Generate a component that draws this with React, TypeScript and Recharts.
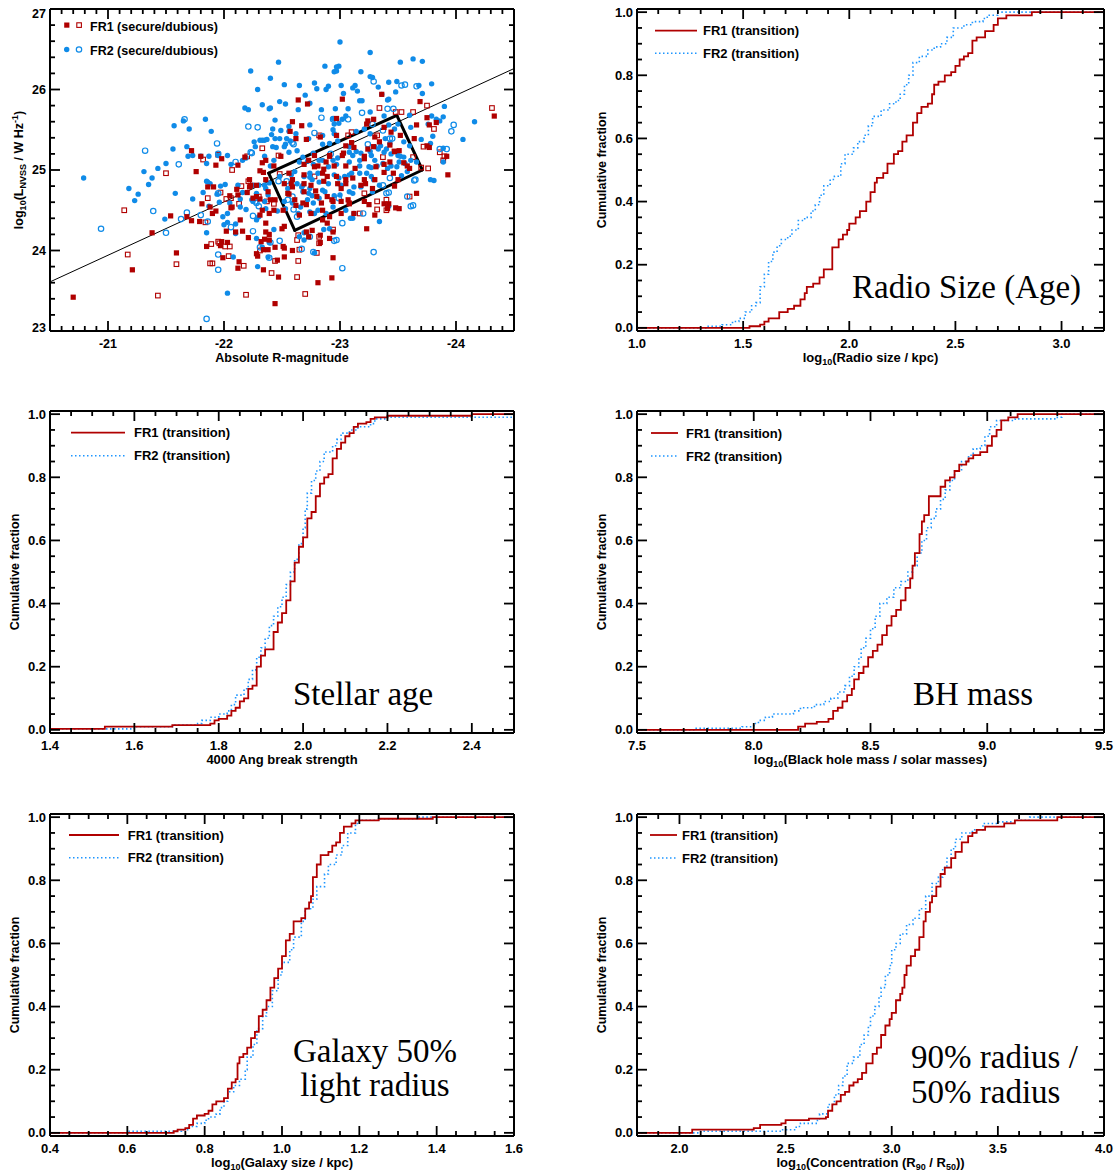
import React from 'react';
import { ScatterChart, Scatter, ComposedChart, Line, XAxis, YAxis, ReferenceLine, Legend } from 'recharts';

type Pt = [number, number];

// ---------------- Panel 1: luminosity vs magnitude ----------------
const fr1Secure: Pt[] = [
[-20.70,23.42],[-21.21,23.76],[-21.38,24.22],[-21.54,24.43],[-21.59,23.97],[-21.68,24.42],[-21.72,25.24],[-21.72,24.37],[-21.76,24.98],[-21.79,24.36],[-21.80,25.17],[-21.81,24.58],[-21.86,24.79],[-21.85,24.05],[-21.88,24.54],[-21.90,24.46],[-21.93,25.06],[-21.93,24.49],[-21.98,25.14],[-21.98,24.11],[-21.99,23.91],[-22.02,24.24],[-22.03,24.10],[-22.07,24.54],[-22.11,24.76],[-22.12,25.06],[-22.13,23.86],[-22.12,23.78],[-22.14,24.38],[-22.16,24.24],[-22.20,24.72],[-22.21,24.16],[-22.22,24.88],[-22.23,24.81],[-22.25,24.65],[-22.28,23.96],[-22.29,23.93],[-22.31,24.99],[-22.31,24.44],[-22.33,25.09],[-22.34,24.97],[-22.35,24.14],[-22.34,23.76],[-22.36,24.34],[-22.38,24.73],[-22.40,24.63],[-22.43,25.05],[-22.43,24.50],[-22.44,24.63],[-22.46,23.88],[-22.47,23.67],[-22.49,25.17],[-22.50,24.27],[-22.51,24.05],[-22.52,24.03],[-22.52,23.92],[-22.55,24.71],[-22.57,25.48],[-22.58,24.83],[-22.59,24.00],[-22.62,24.56],[-22.59,25.60],[-22.61,24.63],[-22.64,25.87],[-22.67,25.55],[-22.65,24.44],[-22.71,25.38],[-22.73,24.17],[-22.81,23.60],[-22.83,25.41],[-22.94,23.91],[-22.93,23.66],[-22.91,24.15],[-23.02,25.88],[-23.36,25.94],[-23.69,25.85],[-24.33,25.67],[-23.92,25.17],[-23.93,24.94],[-23.77,25.28],[-23.77,25.56],[-23.66,24.71],[-23.42,24.58],[-23.51,24.52],[-23.23,24.27],[-23.30,24.44],[-23.12,24.46],[-23.08,24.58],[-23.01,24.61],[-22.44,23.34],
[-23.10,25.34],[-23.12,25.28],[-23.05,25.30],[-23.02,25.18],[-22.91,25.18],[-22.95,25.05],[-22.88,25.10],[-22.81,25.05],[-22.78,25.18],[-22.86,25.01],[-23.05,25.05],[-22.73,25.12],[-22.69,25.07],[-22.62,25.39],[-22.97,25.43],[-22.72,25.82],[-22.97,25.64],[-22.18,25.16],[-22.36,25.12],
[-23.24,25.61],[-23.66,25.56],[-23.75,25.65],[-23.83,25.59],[-23.75,25.30],[-23.64,25.39],[-23.29,25.63],[-23.23,25.57],[-23.30,25.41],[-23.38,25.53],[-23.44,25.47],[-23.52,25.43],[-23.43,25.31],[-23.29,25.29],[-23.24,25.26],[-23.21,25.14],[-23.51,25.24],[-23.55,25.09],[-23.58,25.05],[-23.43,25.10],[-23.38,25.07],
[-21.91,24.79],[-22.05,24.68],[-22.12,24.69],[-22.06,24.53],[-22.22,24.79],[-22.28,24.81],[-22.28,24.67],[-22.31,24.64],[-22.36,24.88],[-22.33,24.50],[-22.39,24.46],[-22.10,24.23],[-22.32,24.11],[-22.36,24.23],[-22.39,24.20],[-22.39,24.13],[-22.34,24.01],[-22.38,24.01],[-22.44,24.04],[-22.52,24.30],[-22.71,24.23],[-22.76,24.25],[-22.83,24.10],[-22.83,24.19],[-22.89,24.34],[-22.94,24.23],[-21.97,24.06],
[-22.52,24.83],[-22.56,24.96],[-22.59,24.88],[-22.59,24.79],[-22.56,24.70],[-22.51,24.50],[-22.68,24.59],[-22.69,24.83],[-22.75,24.81],[-22.79,24.74],[-22.84,24.59],[-22.86,24.86],[-22.89,24.92],[-22.98,24.83],[-23.05,24.83],[-23.11,24.90],[-23.01,24.77],[-22.89,24.67],[-22.94,24.61],[-22.85,24.50],[-22.85,24.38],[-22.91,24.42],[-22.71,24.57],[-22.69,24.94],[-23.08,24.59],[-23.01,24.46],
[-23.21,24.88],[-23.22,24.83],[-23.30,24.88],[-23.28,24.77],[-23.21,24.61],[-23.25,24.57],[-23.38,24.58],[-23.41,24.52],[-23.48,24.53],[-23.47,24.80],[-23.50,24.88],[-23.38,24.97],
[-22.69,24.73],[-22.80,24.67],[-22.85,24.96],[-22.97,24.92],[-23.05,24.88],[-23.13,25.02],[-23.21,25.17],[-23.34,25.35],[-23.47,25.23],[-23.60,25.02],[-23.18,24.81],[-23.07,24.63],[-22.93,24.63],[-22.75,24.46],[-23.46,24.96],[-23.31,25.04],[-23.03,25.21],[-22.91,25.17],[-22.78,25.04]
];

const fr1Dubious: Pt[] = [
[-21.14,24.50],[-21.17,23.95],[-21.43,23.44],[-21.50,24.96],[-21.59,23.83],[-21.82,25.13],[-21.88,23.84],[-21.90,23.84],[-21.97,24.72],[-21.96,24.09],[-22.01,24.05],[-22.05,24.05],[-22.04,23.93],[-22.07,25.00],[-22.06,24.65],[-22.17,23.81],[-22.19,23.45],[-22.20,25.17],[-22.30,24.67],[-22.31,24.00],[-22.33,25.27],[-22.37,24.61],[-22.41,23.72],[-22.63,24.13],[-22.64,24.19],[-22.64,23.87],[-22.63,23.67],[-22.70,23.46],[-22.82,24.09],[-22.82,24.17],[-22.80,23.97],[-22.94,24.26],[-23.75,25.80],[-24.31,25.77],[-23.90,25.17],[-23.89,25.12],[-23.81,25.51],[-23.72,25.29],[-23.76,25.02],[-23.60,24.67],[-23.40,24.63],[-23.40,24.50],[-23.17,24.46],
[-23.07,25.43],[-23.10,25.47],[-22.82,25.43],[-22.47,25.18],[-21.95,25.19],
[-23.53,25.72],[-23.48,25.72],[-23.34,25.77],[-23.63,25.72],[-23.86,25.22],[-23.32,25.43],[-23.37,25.16],[-23.47,25.23],[-23.63,25.16],[-23.70,25.03],
[-21.86,24.65],[-22.13,24.58],[-22.15,24.80],[-22.21,24.86],[-22.43,24.58],[-21.84,24.35],[-22.65,24.01],[-21.89,24.08],[-21.95,24.11],[-22.02,24.64],[-22.48,24.95],[-22.78,24.92],[-22.44,23.87],
[-23.21,24.71],[-23.32,24.61],[-23.32,24.51]
];

const fr2Secure: Pt[] = [
[-20.79,24.90],[-21.18,24.77],[-21.26,24.70],[-21.23,24.62],[-21.31,24.98],[-21.35,24.82],[-21.38,24.90],[-21.43,25.02],[-21.49,24.39],[-21.50,25.08],[-21.56,25.26],[-21.57,25.55],[-21.58,24.71],[-21.65,25.61],[-21.68,25.29],[-21.69,25.17],[-21.70,25.51],[-21.73,25.18],[-21.73,24.64],[-21.80,25.17],[-21.84,25.63],[-21.82,24.72],[-21.85,25.08],[-21.86,24.85],[-21.89,25.48],[-21.87,25.17],[-21.95,25.18],[-21.96,24.60],[-22.03,25.18],[-22.01,24.82],[-22.03,24.46],[-22.03,24.35],[-22.03,23.47],[-22.06,25.07],[-22.10,24.33],[-22.10,24.21],[-22.12,24.81],[-22.08,23.92],[-22.16,25.12],[-22.14,24.64],[-22.18,25.77],[-22.19,25.15],[-22.21,25.75],[-22.23,26.23],[-22.24,24.63],[-22.27,25.29],[-22.28,24.15],[-22.29,23.80],[-22.29,26.00],[-22.31,25.37],[-22.30,24.81],[-22.33,25.81],[-22.33,25.37],[-22.35,25.17],[-22.35,25.37],[-22.36,24.77],[-22.36,24.52],[-22.37,25.38],[-22.40,26.14],[-22.40,25.77],[-22.41,25.44],[-22.42,25.29],[-22.39,24.84],[-22.44,25.62],[-22.44,25.39],[-22.45,25.28],[-22.46,24.49],[-22.47,26.34],[-22.48,25.85],[-22.53,25.82],[-22.54,25.39],[-22.55,24.77],[-22.56,25.54],[-22.58,24.94],[-22.64,25.75],[-22.65,26.05],[-22.65,25.10],[-22.68,24.81],[-22.70,25.93],[-22.72,25.11],[-22.74,25.56],[-22.76,24.88],[-22.78,26.08],[-22.84,25.75],[-22.87,26.29],[-22.88,26.00],[-22.90,26.04],[-22.85,25.32],[-22.91,25.33],[-22.94,25.64],[-22.97,26.23],[-22.99,26.29],[-23.00,26.59],[-22.91,24.27],[-23.03,25.95],[-23.07,25.76],[-23.11,26.02],[-23.13,26.05],[-23.15,25.98],[-23.18,26.22],[-23.19,25.86],[-23.26,26.46],[-23.28,26.15],[-23.33,26.03],[-23.36,25.94],[-23.42,25.88],[-23.42,26.09],[-23.49,26.10],[-23.52,26.34],[-23.63,26.38],[-23.68,26.05],[-23.71,26.35],[-23.71,25.95],[-23.79,26.07],[-23.90,25.79],[-24.16,25.60],[-24.06,25.38],[-23.89,25.66],[-23.81,24.87],[-23.89,25.27],[-23.89,25.10],[-23.78,25.33],[-23.80,25.42],[-23.79,25.67],[-23.83,25.63],[-23.86,25.61],[-23.34,24.81],[-23.34,24.36],[-23.05,24.50],[-23.11,24.40],
[-23.14,25.48],[-23.08,25.22],[-23.11,25.18],[-22.85,25.12],[-22.77,25.07],[-22.97,25.07],[-23.08,25.10],[-22.68,25.16],[-22.63,25.24],[-22.77,25.21],[-22.85,25.43],[-22.95,25.45],[-22.98,25.36],[-22.99,25.58],[-22.95,25.57],[-23.02,25.63],[-23.05,25.67],[-22.73,25.39],[-22.57,25.36],[-22.53,25.32],[-22.48,25.39],
[-22.97,26.28],[-22.95,26.22],[-22.52,26.06],[-22.80,26.01],[-23.01,26.05],[-22.74,25.83],[-22.39,25.76],[-22.96,25.76],[-22.56,25.48],[-22.62,25.45],[-22.94,25.50],[-22.49,25.49],[-22.42,25.51],[-22.26,25.35],[-22.40,25.05],[-22.43,25.12],[-22.52,25.29],[-22.56,25.22],
[-23.26,26.16],[-23.48,25.97],[-23.17,25.86],[-23.41,25.87],[-23.26,25.72],[-23.38,25.67],[-23.60,25.68],[-23.61,25.53],[-23.76,25.57],[-23.70,25.38],[-23.60,25.30],[-23.55,25.35],
[-23.21,25.51],[-23.26,25.45],[-23.42,25.56],[-23.47,25.51],[-23.50,25.57],[-23.40,25.26],[-23.35,25.30],[-23.33,25.26],[-23.18,25.21],[-23.27,25.18],[-23.30,25.12],[-23.38,25.22],[-23.44,25.20],[-23.50,25.18],[-23.51,25.10],[-23.55,25.16],[-23.61,25.12],[-23.66,25.10],[-23.44,25.05],[-23.32,25.05],[-23.27,25.03],[-23.17,25.05],
[-21.85,24.86],[-21.88,24.83],[-21.97,24.80],[-21.94,24.70],[-21.87,24.55],[-22.05,24.59],[-22.14,24.54],[-22.19,24.51],[-22.16,24.72],[-22.25,24.81],[-22.28,24.71],[-22.25,24.61],[-22.35,24.61],[-22.35,24.81],[-22.38,24.69],[-22.30,24.42],[-22.28,24.38],[-21.99,24.42],[-22.00,24.32],[-21.85,24.22],[-22.39,24.10],[-22.33,24.04],[-22.43,24.26],[-22.38,23.92],[-22.69,24.13],[-22.65,24.17],[-22.69,24.22],[-22.86,24.26],[-22.78,23.97],
[-22.48,24.92],[-22.61,24.98],[-22.63,24.83],[-22.52,24.61],[-22.53,24.52],[-22.59,24.59],[-22.64,24.46],[-22.66,24.54],[-22.68,24.73],[-22.74,24.77],[-22.73,24.71],[-22.76,24.68],[-22.82,24.65],[-22.85,24.75],[-22.90,24.83],[-22.95,24.94],[-22.99,24.90],[-23.04,24.92],[-23.08,24.94],[-23.12,24.79],[-23.08,24.73],[-22.95,24.68],[-22.78,24.46],[-22.74,24.48],[-22.74,24.91],[-22.81,24.96],[-23.12,24.46],[-23.09,24.40],
[-23.17,24.96],[-23.18,24.79],[-23.27,24.92],[-23.28,24.73],[-23.42,24.55],[-23.53,24.93],[-23.58,24.98],[-23.78,24.88],
[-22.67,24.79],[-22.72,24.63],[-22.77,24.59],[-22.82,24.85],[-22.90,25.04],[-22.94,25.12],[-23.01,24.81],[-23.10,24.96],[-23.17,25.12],[-23.26,25.23],[-23.30,25.29],[-23.39,25.39],[-23.43,25.33],[-23.52,25.17],[-23.56,25.08],[-23.23,24.96],[-23.29,24.88],[-23.11,24.71],[-23.00,24.69],[-22.87,24.73],[-22.81,24.50],[-22.88,24.46],[-22.94,24.54],[-23.37,25.08],[-23.41,25.02],[-23.49,25.04],[-23.25,25.04],[-23.14,25.23],[-23.08,25.29],[-22.98,25.15],[-22.82,25.12],[-22.74,24.96],[-22.69,24.92]
];

const fr2Dubious: Pt[] = [
[-20.94,24.27],[-21.32,25.24],[-21.39,24.49],[-21.50,24.22],[-21.61,25.07],[-21.63,24.39],[-21.66,25.63],[-21.68,24.47],[-21.86,24.36],[-21.85,23.15],[-21.95,25.20],[-21.95,24.71],[-21.95,23.76],[-21.95,23.95],[-22.06,24.29],[-22.21,25.54],[-22.24,25.21],[-22.25,24.43],[-22.25,24.24],[-22.27,24.61],[-22.29,25.53],[-22.30,24.55],[-22.31,24.04],[-22.40,24.10],[-22.39,23.91],[-22.54,24.86],[-22.55,24.63],[-22.60,24.51],[-22.63,24.42],[-22.67,24.02],[-22.74,24.17],[-22.78,25.46],[-22.77,23.98],[-22.97,24.13],[-23.02,23.78],[-23.29,26.10],[-23.56,26.06],[-23.98,25.56],[-23.96,25.48],[-23.92,25.26],[-23.65,24.88],[-23.63,24.56],[-23.42,24.72],[-23.29,23.98],[-23.20,24.46],
[-22.92,25.20],[-22.60,25.32],[-22.84,25.65],[-22.94,25.63],[-21.94,25.33],[-22.23,25.22],[-22.10,25.10],[-22.59,25.34],[-23.07,25.63],
[-23.53,26.05],[-23.66,26.04],[-23.19,25.71],[-23.41,25.76],[-23.46,25.76],[-23.86,25.26],[-23.28,25.57],[-23.37,25.49],[-23.43,25.39],[-23.45,25.39],[-23.24,25.32],
[-21.80,24.44],[-22.28,24.59],[-22.48,24.12],[-22.95,24.12],[-22.47,24.86],[-22.59,24.67],[-22.99,24.65],[-23.02,24.34],
[-23.37,24.81],[-23.40,24.71],[-23.43,24.90],[-23.58,24.67],[-23.61,24.55],[-23.64,24.87]
];

const fitLine: Pt[] = [[-20.5, 23.61], [-24.5, 26.26]];
const selectionBox: Pt[] = [[-22.385, 24.96], [-22.61, 24.25], [-23.71, 25.0], [-23.49, 25.68]];

const magTicks = [-21, -22, -23, -24];
const lumTicks = [23, 24, 25, 26, 27];

// ---------------- CDF panels ----------------
const cdfTicks = [0, 0.2, 0.4, 0.6, 0.8, 1.0];

const radioTicks = [1.0, 1.5, 2.0, 2.5, 3.0];
const radioFR1: Pt[] = [[1.0,0],[1.53,0.005],[1.58,0.01],[1.60,0.02],[1.62,0.03],[1.67,0.05],[1.71,0.06],[1.74,0.07],[1.77,0.09],[1.79,0.11],[1.80,0.13],[1.83,0.14],[1.86,0.16],[1.88,0.185],[1.92,0.255],[1.95,0.28],[1.97,0.295],[1.99,0.31],[2.00,0.33],[2.03,0.35],[2.05,0.37],[2.08,0.40],[2.10,0.43],[2.12,0.46],[2.13,0.475],[2.16,0.49],[2.18,0.52],[2.21,0.55],[2.23,0.56],[2.25,0.59],[2.27,0.61],[2.30,0.65],[2.32,0.68],[2.34,0.70],[2.37,0.71],[2.39,0.74],[2.40,0.77],[2.42,0.78],[2.45,0.80],[2.48,0.81],[2.50,0.83],[2.52,0.85],[2.54,0.86],[2.56,0.87],[2.58,0.91],[2.60,0.92],[2.64,0.94],[2.68,0.96],[2.70,0.98],[2.74,0.99],[2.86,1.0],[3.2,1.0]];
const radioFR2: Pt[] = [[1.0,0],[1.33,0.005],[1.40,0.01],[1.45,0.02],[1.48,0.03],[1.51,0.05],[1.54,0.07],[1.56,0.08],[1.58,0.13],[1.60,0.17],[1.62,0.21],[1.64,0.24],[1.66,0.26],[1.68,0.28],[1.71,0.29],[1.73,0.31],[1.76,0.34],[1.79,0.35],[1.82,0.37],[1.84,0.39],[1.86,0.42],[1.88,0.45],[1.91,0.47],[1.93,0.48],[1.96,0.52],[1.98,0.55],[2.02,0.57],[2.04,0.59],[2.07,0.61],[2.09,0.64],[2.11,0.67],[2.15,0.69],[2.19,0.71],[2.22,0.72],[2.24,0.74],[2.26,0.77],[2.28,0.80],[2.30,0.84],[2.33,0.86],[2.37,0.88],[2.40,0.89],[2.43,0.90],[2.46,0.92],[2.49,0.95],[2.54,0.96],[2.58,0.97],[2.63,0.98],[2.65,0.99],[2.70,1.0],[3.2,1.0]];

const ageTicks = [1.4, 1.6, 1.8, 2.0, 2.2, 2.4];
const ageFR1: Pt[] = [[1.4,0.003],[1.53,0.01],[1.69,0.015],[1.78,0.02],[1.79,0.03],[1.80,0.035],[1.82,0.045],[1.83,0.06],[1.84,0.07],[1.85,0.09],[1.86,0.10],[1.87,0.13],[1.88,0.14],[1.89,0.20],[1.90,0.235],[1.91,0.255],[1.93,0.31],[1.94,0.34],[1.95,0.37],[1.96,0.41],[1.97,0.47],[1.98,0.53],[1.99,0.58],[2.00,0.61],[2.01,0.67],[2.02,0.69],[2.03,0.74],[2.04,0.78],[2.05,0.80],[2.06,0.81],[2.07,0.86],[2.08,0.89],[2.09,0.91],[2.10,0.93],[2.11,0.94],[2.12,0.96],[2.13,0.97],[2.15,0.975],[2.16,0.985],[2.17,0.99],[2.20,0.995],[2.40,1.0],[2.5,1.0]];
const ageFR2: Pt[] = [[1.4,0.003],[1.60,0.01],[1.69,0.015],[1.75,0.02],[1.76,0.03],[1.78,0.04],[1.80,0.05],[1.82,0.06],[1.83,0.08],[1.84,0.11],[1.86,0.13],[1.87,0.16],[1.88,0.19],[1.89,0.23],[1.90,0.26],[1.91,0.29],[1.92,0.33],[1.93,0.36],[1.94,0.39],[1.95,0.42],[1.96,0.46],[1.97,0.50],[1.98,0.54],[1.99,0.59],[2.00,0.64],[2.005,0.70],[2.01,0.75],[2.02,0.79],[2.03,0.82],[2.04,0.85],[2.05,0.88],[2.07,0.90],[2.08,0.92],[2.09,0.94],[2.11,0.95],[2.13,0.96],[2.16,0.97],[2.17,0.985],[2.20,0.99],[2.5,0.995]];

const bhTicks = [7.5, 8.0, 8.5, 9.0, 9.5];
const bhFR1: Pt[] = [[7.5,0],[8.19,0.01],[8.22,0.02],[8.27,0.025],[8.32,0.035],[8.34,0.06],[8.36,0.07],[8.38,0.09],[8.40,0.11],[8.42,0.13],[8.43,0.16],[8.45,0.18],[8.47,0.20],[8.49,0.23],[8.51,0.25],[8.53,0.27],[8.55,0.30],[8.57,0.33],[8.59,0.36],[8.61,0.38],[8.63,0.41],[8.65,0.45],[8.67,0.48],[8.68,0.52],[8.69,0.56],[8.71,0.62],[8.72,0.66],[8.73,0.68],[8.75,0.74],[8.80,0.77],[8.82,0.79],[8.84,0.80],[8.86,0.82],[8.88,0.84],[8.91,0.85],[8.92,0.86],[8.94,0.87],[8.97,0.88],[9.00,0.90],[9.02,0.93],[9.04,0.95],[9.06,0.98],[9.09,0.99],[9.13,1.0],[9.5,1.0]];
const bhFR2: Pt[] = [[7.5,0],[7.75,0.005],[7.95,0.01],[8.00,0.02],[8.02,0.03],[8.05,0.04],[8.08,0.05],[8.17,0.06],[8.20,0.07],[8.26,0.08],[8.30,0.09],[8.33,0.10],[8.36,0.12],[8.39,0.14],[8.41,0.17],[8.43,0.20],[8.45,0.23],[8.46,0.26],[8.48,0.29],[8.50,0.32],[8.52,0.36],[8.54,0.40],[8.57,0.42],[8.60,0.45],[8.63,0.47],[8.66,0.50],[8.68,0.52],[8.70,0.56],[8.72,0.60],[8.74,0.64],[8.76,0.67],[8.78,0.70],[8.80,0.73],[8.82,0.76],[8.84,0.79],[8.86,0.82],[8.89,0.85],[8.92,0.87],[8.94,0.89],[8.97,0.90],[8.99,0.93],[9.01,0.96],[9.04,0.98],[9.12,0.985],[9.30,0.99],[9.32,1.0],[9.5,1.0]];

const sizeTicks = [0.4, 0.6, 0.8, 1.0, 1.2, 1.4, 1.6];
const sizeFR1: Pt[] = [[0.4,0],[0.72,0.005],[0.73,0.01],[0.75,0.015],[0.76,0.025],[0.77,0.045],[0.78,0.055],[0.80,0.06],[0.81,0.07],[0.82,0.09],[0.83,0.10],[0.85,0.11],[0.86,0.14],[0.87,0.16],[0.88,0.17],[0.885,0.22],[0.89,0.24],[0.90,0.25],[0.91,0.27],[0.92,0.30],[0.93,0.32],[0.94,0.37],[0.95,0.39],[0.96,0.42],[0.97,0.46],[0.98,0.49],[0.99,0.52],[1.00,0.56],[1.01,0.61],[1.02,0.63],[1.03,0.67],[1.05,0.68],[1.06,0.71],[1.07,0.73],[1.075,0.75],[1.08,0.81],[1.09,0.85],[1.10,0.88],[1.12,0.89],[1.13,0.91],[1.14,0.92],[1.15,0.95],[1.16,0.97],[1.18,0.98],[1.19,0.99],[1.25,0.995],[1.39,1.0],[1.6,1.0]];
const sizeFR2: Pt[] = [[0.4,0],[0.60,0.005],[0.74,0.01],[0.76,0.02],[0.78,0.03],[0.80,0.04],[0.81,0.05],[0.83,0.06],[0.84,0.08],[0.85,0.10],[0.86,0.13],[0.875,0.15],[0.89,0.17],[0.905,0.20],[0.91,0.24],[0.925,0.28],[0.935,0.33],[0.95,0.37],[0.96,0.40],[0.975,0.45],[0.99,0.50],[1.00,0.54],[1.02,0.58],[1.03,0.62],[1.05,0.67],[1.06,0.71],[1.08,0.74],[1.09,0.78],[1.11,0.82],[1.12,0.85],[1.14,0.88],[1.155,0.91],[1.17,0.95],[1.19,0.98],[1.20,0.99],[1.25,0.995],[1.35,1.0],[1.6,1.0]];

const concTicks = [2.0, 2.5, 3.0, 3.5, 4.0];
const concFR1: Pt[] = [[1.8,0],[2.06,0.01],[2.35,0.015],[2.38,0.025],[2.48,0.03],[2.50,0.04],[2.61,0.045],[2.69,0.05],[2.70,0.07],[2.72,0.09],[2.74,0.10],[2.76,0.12],[2.78,0.13],[2.80,0.15],[2.82,0.16],[2.84,0.17],[2.86,0.19],[2.88,0.22],[2.91,0.25],[2.93,0.27],[2.95,0.31],[2.97,0.34],[2.99,0.36],[3.00,0.38],[3.02,0.42],[3.04,0.44],[3.05,0.46],[3.06,0.50],[3.07,0.53],[3.09,0.56],[3.11,0.58],[3.13,0.62],[3.15,0.67],[3.16,0.70],[3.18,0.73],[3.19,0.75],[3.21,0.78],[3.23,0.82],[3.25,0.84],[3.28,0.87],[3.30,0.89],[3.33,0.92],[3.36,0.94],[3.38,0.95],[3.40,0.96],[3.44,0.97],[3.53,0.98],[3.58,0.99],[3.78,1.0],[4.0,1.0]];
const concFR2: Pt[] = [[1.8,0],[2.10,0.005],[2.48,0.01],[2.55,0.02],[2.57,0.03],[2.65,0.04],[2.66,0.06],[2.70,0.09],[2.73,0.12],[2.75,0.15],[2.77,0.18],[2.79,0.22],[2.82,0.24],[2.85,0.28],[2.87,0.31],[2.89,0.34],[2.90,0.37],[2.92,0.40],[2.94,0.43],[2.95,0.46],[2.97,0.50],[2.99,0.53],[3.00,0.58],[3.02,0.60],[3.04,0.63],[3.07,0.66],[3.10,0.68],[3.13,0.71],[3.16,0.75],[3.19,0.79],[3.22,0.81],[3.24,0.84],[3.26,0.87],[3.28,0.90],[3.30,0.93],[3.33,0.95],[3.38,0.96],[3.43,0.98],[3.50,0.985],[3.58,0.99],[3.65,1.0],[4.0,1.0]];

// ---------------- styling ----------------
const SANS = '"Liberation Sans", Arial, Helvetica, sans-serif';
const SERIF = '"Liberation Serif", "Times New Roman", serif';
const RED = '#b00000';
const BLUE = '#0f8be8';
const BLUE_LINE = '#1e96ff';
const AXIS = { stroke: '#000', strokeWidth: 2 };
const W = 557;
const H = 380;
const PLOT_H = 322;
const MAJOR_LEN = 10;
const MINOR_LEN = 5;

const toXY = (arr: Pt[]) => arr.map(([x, y]) => ({ x, y }));

function ticksBetween(lo: number, hi: number, step: number) {
  const n = Math.round((hi - lo) / step);
  const out: number[] = [];
  for (let i = 0; i <= n; i++) out.push(Number((lo + i * step).toFixed(6)));
  return out;
}
const isMajorOf = (majors: number[]) => (v: number) => majors.some((m) => Math.abs(m - v) < 1e-6);

// inward tick marks on all four frame edges, as reference-line segments in data space
function frameTickLines(
  key: string, xt: number[], xMaj: number[], yt: number[], yMaj: number[],
  xLeft: number, xRight: number, yBottom: number, yTop: number, plotW: number,
) {
  const mx = isMajorOf(xMaj);
  const my = isMajorOf(yMaj);
  const dx = (xRight - xLeft) / plotW; // data units per px, rightwards
  const dy = (yTop - yBottom) / PLOT_H; // data units per px, upwards
  const segs: { a: { x: number; y: number }; b: { x: number; y: number } }[] = [];
  xt.forEach((v) => {
    const L = mx(v) ? MAJOR_LEN : MINOR_LEN;
    segs.push({ a: { x: v, y: yBottom }, b: { x: v, y: yBottom + L * dy } });
    segs.push({ a: { x: v, y: yTop }, b: { x: v, y: yTop - L * dy } });
  });
  yt.forEach((v) => {
    const L = my(v) ? MAJOR_LEN : MINOR_LEN;
    segs.push({ a: { x: xLeft, y: v }, b: { x: xLeft + L * dx, y: v } });
    segs.push({ a: { x: xRight, y: v }, b: { x: xRight - L * dx, y: v } });
  });
  return segs.map((s, i) => (
    <ReferenceLine key={`${key}-t${i}`} segment={[s.a, s.b]} stroke="#000" strokeWidth={1.8} ifOverflow="visible" />
  ));
}

// axis tick renderer: labels only
type Side = 'bottom' | 'left';
function makeLabel(side: Side, majors: number[], fmt: (v: number) => string, fontSize = 13, clamp?: [number, number]) {
  const isMajor = isMajorOf(majors);
  return (props: any) => {
    const x = Number(props.x);
    const y = Number(props.y);
    const v = Number(props.payload.value);
    if (!isMajor(v)) return <g />;
    if (side === 'bottom') {
      return (
        <text x={x} y={y + 17} textAnchor="middle" fontFamily={SANS} fontWeight="bold" fontSize={fontSize} fill="#000">
          {fmt(v)}
        </text>
      );
    }
    let ly = y;
    if (clamp) ly = Math.min(Math.max(ly, clamp[0]), clamp[1]);
    return (
      <text x={x - 4} y={ly} dy="0.35em" textAnchor="end" fontFamily={SANS} fontWeight="bold" fontSize={fontSize} fill="#000">
        {fmt(v)}
      </text>
    );
  };
}

const fmt1 = (v: number) => v.toFixed(1);
const fmtInt = (v: number) => String(Math.round(v));

function AxisTitle(props: any) {
  const { px, py, rot, node, size } = props;
  return (
    <text
      x={px}
      y={py}
      transform={rot ? `rotate(-90 ${px} ${py})` : undefined}
      textAnchor="middle"
      fontFamily={SANS}
      fontWeight="bold"
      fontSize={size ?? 13}
      fill="#000"
    >
      {node}
    </text>
  );
}

const sub = (t: string, rest: string) => [
  <tspan key={'s' + t} dy={3} fontSize={9}>{t}</tspan>,
  <tspan key={'r' + t + rest} dy={-3}>{rest}</tspan>,
];

const axisCommon = { interval: 0 as const, tickSize: 0, tickMargin: 0, tickLine: false, axisLine: AXIS, allowDataOverflow: true };

// ---------------- Panel 1 ----------------
function ScatterPanel() {
  const xt = ticksBetween(-24.5, -20.5, 0.1);
  const yt = ticksBetween(23, 27, 0.2);
  const tickLines = frameTickLines('p1', xt, magTicks, yt, lumTicks, -20.5, -24.5, 23, 27, 464);
  const sq = (fill: boolean) => (p: any) =>
    fill ? (
      <rect x={p.cx - 2.6} y={p.cy - 2.6} width={5.2} height={5.2} fill={RED} />
    ) : (
      <rect x={p.cx - 2.3} y={p.cy - 2.3} width={4.6} height={4.6} fill="none" stroke={RED} strokeWidth={1.1} />
    );
  const dot = (fill: boolean) => (p: any) =>
    fill ? (
      <circle cx={p.cx} cy={p.cy} r={2.7} fill={BLUE} />
    ) : (
      <circle cx={p.cx} cy={p.cy} r={2.7} fill="none" stroke={BLUE} strokeWidth={1.2} />
    );
  const boxSegs = selectionBox.map((c, i) => {
    const n = selectionBox[(i + 1) % selectionBox.length];
    return (
      <ReferenceLine
        key={'box' + i}
        segment={[{ x: c[0], y: c[1] }, { x: n[0], y: n[1] }]}
        stroke="#000"
        strokeWidth={3}
        strokeLinecap="round"
        ifOverflow="visible"
      />
    );
  });
  const yTitle = [
    'log',
    <tspan key="a" dy={3} fontSize={9}>10</tspan>,
    <tspan key="b" dy={-3}>(L</tspan>,
    <tspan key="c" dy={3} fontSize={9}>NVSS</tspan>,
    <tspan key="d" dy={-3}> / W Hz</tspan>,
    <tspan key="e" dy={-5} fontSize={9}>-1</tspan>,
    <tspan key="f" dy={5}>)</tspan>,
  ];
  const legendContent = () => (
    <svg width={W} height={H} style={{ position: 'absolute', left: 0, top: 0, overflow: 'visible' }}>
      <rect x={64.2} y={24.5} width={5.2} height={5.2} fill={RED} />
      <rect x={76.8} y={24.8} width={4.6} height={4.6} fill="none" stroke={RED} strokeWidth={1.1} />
      <text x={90} y={29} dy="0.35em" fontFamily={SANS} fontWeight="bold" fontSize={12.5}>FR1 (secure/dubious)</text>
      <circle cx={66.7} cy={51.5} r={2.7} fill={BLUE} />
      <circle cx={79} cy={51.5} r={2.7} fill="none" stroke={BLUE} strokeWidth={1.2} />
      <text x={90} y={53} dy="0.35em" fontFamily={SANS} fontWeight="bold" fontSize={12.5}>FR2 (secure/dubious)</text>
    </svg>
  );
  return (
    <div style={{ position: 'absolute', left: 0, top: -2 }}>
      <ScatterChart width={W} height={H} margin={{ top: 10, right: 42, bottom: 7, left: 0 }}>
        <XAxis
          type="number" dataKey="x" domain={[-24.5, -20.5]} reversed ticks={xt} {...axisCommon}
          tick={makeLabel('bottom', magTicks, fmtInt, 12.5)} height={40}
          label={<AxisTitle px={282} py={364} size={12.5} node="Absolute R-magnitude" />}
        />
        <XAxis xAxisId="top" orientation="top" type="number" dataKey="x" domain={[-24.5, -20.5]} reversed
          {...axisCommon} tick={false} height={1} />
        <YAxis
          type="number" dataKey="y" domain={[23, 27]} ticks={yt} {...axisCommon}
          tick={makeLabel('left', lumTicks, fmtInt, 12.5, [16, 330])} width={50}
          label={<AxisTitle px={22.5} py={172} rot size={12.5} node={yTitle} />}
        />
        <YAxis yAxisId="right" orientation="right" type="number" dataKey="y" domain={[23, 27]}
          {...axisCommon} tick={false} width={1} />
        <Scatter name="FR1 dubious" data={toXY(fr1Dubious)} shape={sq(false)} isAnimationActive={false} />
        <Scatter name="FR2 dubious" data={toXY(fr2Dubious)} shape={dot(false)} isAnimationActive={false} />
        <Scatter name="FR2 secure" data={toXY(fr2Secure)} shape={dot(true)} isAnimationActive={false} />
        <Scatter name="FR1 secure" data={toXY(fr1Secure)} shape={sq(true)} isAnimationActive={false} />
        <ReferenceLine
          segment={[{ x: fitLine[0][0], y: fitLine[0][1] }, { x: fitLine[1][0], y: fitLine[1][1] }]}
          stroke="#000" strokeWidth={1} ifOverflow="visible"
        />
        {boxSegs}
        {tickLines}
        <Legend
          verticalAlign="middle" align="center" layout="horizontal" content={legendContent}
          wrapperStyle={{ position: 'absolute', left: 0, top: 0, width: W, height: H, pointerEvents: 'none' }}
        />
      </ScatterChart>
    </div>
  );
}

// ---------------- CDF panel ----------------
type LegendPos = { x1: number; x2: number; tx: number; y1: number; y2: number };
type Note = { lines: string[]; x: number; y: number; gap: number; anchor: 'start' | 'middle' };
const Y_DOMAIN: [number, number] = [-0.01, 1.01];

function CdfPanel(p: {
  id: string;
  left: number;
  top: number;
  col: 0 | 1;
  xDomain: [number, number];
  xMinor: number;
  xMajors: number[];
  fr1: Pt[];
  fr2: Pt[];
  xTitle: React.ReactNode;
  legend: LegendPos;
  note: Note;
}) {
  const xt = ticksBetween(p.xDomain[0], p.xDomain[1], p.xMinor);
  const yt = ticksBetween(0, 1, 0.05);
  const axisW = p.col === 0 ? 50 : 80;
  const mr = p.col === 0 ? 42 : 9;
  const plotL = axisW;
  const plotR = W - mr - 1;
  const cx = (plotL + plotR) / 2;
  const tickLines = frameTickLines(p.id, xt, p.xMajors, yt, cdfTicks, p.xDomain[0], p.xDomain[1], Y_DOMAIN[0], Y_DOMAIN[1], plotR - plotL);
  const lg = p.legend;
  const legendContent = () => (
    <svg width={W} height={H} style={{ position: 'absolute', left: 0, top: 0, overflow: 'visible' }}>
      <line x1={lg.x1} x2={lg.x2} y1={lg.y1} y2={lg.y1} stroke={RED} strokeWidth={1.8} />
      <text x={lg.tx} y={lg.y1} dy="0.35em" fontFamily={SANS} fontWeight="bold" fontSize={13}>FR1 (transition)</text>
      <line x1={lg.x1} x2={lg.x2} y1={lg.y2} y2={lg.y2} stroke={BLUE_LINE} strokeWidth={1.6} strokeDasharray="1.5 2.5" />
      <text x={lg.tx} y={lg.y2} dy="0.35em" fontFamily={SANS} fontWeight="bold" fontSize={13}>FR2 (transition)</text>
      {p.note.lines.map((s, i) => (
        <text key={i} x={p.note.x} y={p.note.y + i * p.note.gap} textAnchor={p.note.anchor} fontFamily={SERIF} fontSize={33} fill="#000">
          {s}
        </text>
      ))}
    </svg>
  );
  return (
    <div style={{ position: 'absolute', left: p.left, top: p.top }}>
      <ComposedChart width={W} height={H} margin={{ top: 10, right: mr, bottom: 7, left: 0 }}>
        <XAxis
          type="number" dataKey="x" domain={p.xDomain} ticks={xt} {...axisCommon}
          tick={makeLabel('bottom', p.xMajors, fmt1, 13)} height={40}
          label={<AxisTitle px={cx} py={364} node={p.xTitle} />}
        />
        <XAxis xAxisId="top" orientation="top" type="number" dataKey="x" domain={p.xDomain}
          {...axisCommon} tick={false} height={1} />
        <YAxis
          type="number" dataKey="y" domain={Y_DOMAIN} ticks={yt} {...axisCommon}
          tick={makeLabel('left', cdfTicks, fmt1, 13)} width={axisW}
          label={<AxisTitle px={plotL - 31.5} py={172} rot size={12.5} node="Cumulative fraction" />}
        />
        <YAxis yAxisId="right" orientation="right" type="number" dataKey="y" domain={Y_DOMAIN}
          {...axisCommon} tick={false} width={1} />
        <Line name="FR2 (transition)" data={toXY(p.fr2)} dataKey="y" type="stepAfter" stroke={BLUE_LINE} strokeWidth={1.6}
          strokeDasharray="1.5 2.5" dot={false} activeDot={false} isAnimationActive={false} />
        <Line name="FR1 (transition)" data={toXY(p.fr1)} dataKey="y" type="stepAfter" stroke={RED} strokeWidth={1.8}
          dot={false} activeDot={false} isAnimationActive={false} />
        {tickLines}
        <Legend
          verticalAlign="middle" align="center" layout="horizontal" content={legendContent}
          wrapperStyle={{ position: 'absolute', left: 0, top: 0, width: W, height: H, pointerEvents: 'none' }}
        />
      </ComposedChart>
    </div>
  );
}

export default function App() {
  return (
    <div style={{ position: 'absolute', left: 0, top: 0, width: 1114, height: 1171, background: '#fff', overflow: 'hidden' }}>
      <ScatterPanel />
      <CdfPanel
        id="p2" left={557} top={-2} col={1} xDomain={[1.0, 3.2]} xMinor={0.1} xMajors={radioTicks}
        fr1={radioFR1} fr2={radioFR2}
        xTitle={['log', ...sub('10', '(Radio size / kpc)')]}
        legend={{ x1: 98, x2: 140, tx: 146, y1: 32.7, y2: 55.3 }}
        note={{ lines: ['Radio Size (Age)'], x: 295, y: 300, gap: 0, anchor: 'start' }}
      />
      <CdfPanel
        id="p3" left={0} top={400} col={0} xDomain={[1.4, 2.5]} xMinor={0.05} xMajors={ageTicks}
        fr1={ageFR1} fr2={ageFR2}
        xTitle="4000 Ang break strength"
        legend={{ x1: 71, x2: 125, tx: 134, y1: 32.7, y2: 55.7 }}
        note={{ lines: ['Stellar age'], x: 293, y: 305, gap: 0, anchor: 'start' }}
      />
      <CdfPanel
        id="p4" left={557} top={400} col={1} xDomain={[7.5, 9.5]} xMinor={0.1} xMajors={bhTicks}
        fr1={bhFR1} fr2={bhFR2}
        xTitle={['log', ...sub('10', '(Black hole mass / solar masses)')]}
        legend={{ x1: 94, x2: 121, tx: 129, y1: 33, y2: 56 }}
        note={{ lines: ['BH mass'], x: 356, y: 305, gap: 0, anchor: 'start' }}
      />
      <CdfPanel
        id="p5" left={0} top={803} col={0} xDomain={[0.4, 1.6]} xMinor={0.05} xMajors={sizeTicks}
        fr1={sizeFR1} fr2={sizeFR2}
        xTitle={['log', ...sub('10', '(Galaxy size / kpc)')]}
        legend={{ x1: 69, x2: 119, tx: 127.7, y1: 32, y2: 54.7 }}
        note={{ lines: ['Galaxy 50%', 'light radius'], x: 375, y: 259, gap: 34, anchor: 'middle' }}
      />
      <CdfPanel
        id="p6" left={557} top={803} col={1} xDomain={[1.8, 4.0]} xMinor={0.1} xMajors={concTicks}
        fr1={concFR1} fr2={concFR2}
        xTitle={[
          'log',
          <tspan key="a" dy={3} fontSize={9}>10</tspan>,
          <tspan key="b" dy={-3}>(Concentration (R</tspan>,
          <tspan key="c" dy={3} fontSize={9}>90</tspan>,
          <tspan key="d" dy={-3}> / R</tspan>,
          <tspan key="e" dy={3} fontSize={9}>50</tspan>,
          <tspan key="f" dy={-3}>))</tspan>,
        ]}
        legend={{ x1: 93, x2: 120, tx: 125, y1: 32, y2: 55 }}
        note={{ lines: ['90% radius /', '50% radius'], x: 354, y: 265, gap: 35, anchor: 'start' }}
      />
    </div>
  );
}
